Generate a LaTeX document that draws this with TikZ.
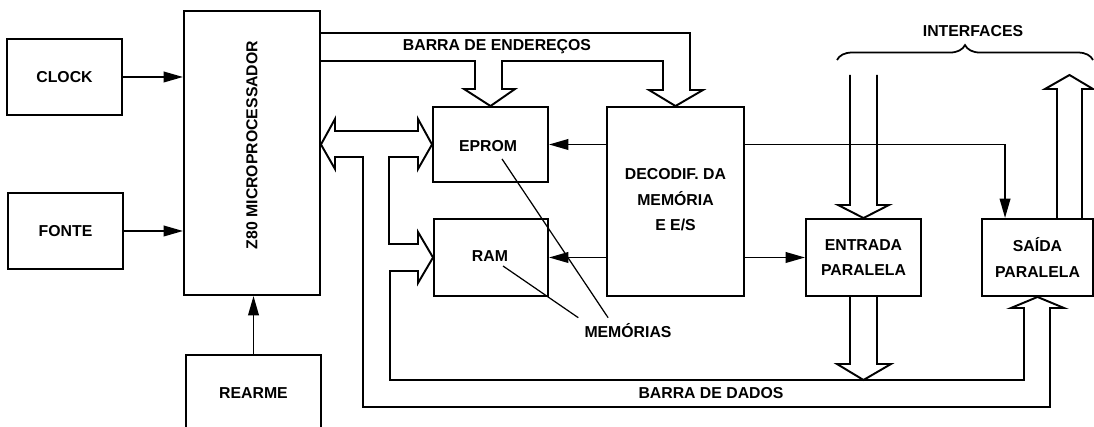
\documentclass[tikz,border=0pt]{standalone}
\usepackage{fontspec}
\setmainfont{Liberation Sans}
\usetikzlibrary{arrows.meta,positioning,calc,decorations.pathreplacing}

\begin{document}
\begin{tikzpicture}[
  x=0.2mm, y=-0.2mm,
  font=\fontsize{9}{14.5}\selectfont\bfseries,
  box/.style={draw, line width=1.1pt, align=center, inner sep=0pt},
  bus/.style={line width=1.1pt, line join=miter},
  ar/.style={-{Triangle[length=11pt,width=6pt]}, line width=1.1pt},
  lead/.style={line width=0.7pt}
]
\useasboundingbox (0,0) rectangle (1094,427);

% blocos
\node[box, minimum width=23mm, minimum height=15.2mm] (clock) at (64.5,77) {CLOCK};
\node[box, minimum width=23mm, minimum height=15.2mm] (fonte) at (65.5,231) {FONTE};
\node[box, minimum width=27.2mm, minimum height=56.8mm] (micro) at (252,153) {};
\node[rotate=90] (microtxt) at (252,145) {Z80 MICROPROCESSADOR};
\node[box, minimum width=27mm, minimum height=15.4mm] (rearme) at (253.5,393.5) {REARME};
\node[box, minimum width=23mm, minimum height=15mm] (eprom) at (490.5,144.5) {};
\node (epromtxt) at (488,146) {EPROM};
\node[box, minimum width=22.8mm, minimum height=15.4mm] (ram) at (491,257.5) {};
\node (ramtxt) at (490,256) {RAM};
\node[box, minimum width=27.4mm, minimum height=37.8mm] (dec) at (675.5,201.5) {};
\node[align=center] (dectxt) at (675.5,200) {DECODIF. DA\\MEMÓRIA\\E E/S};
\node[box, minimum width=23mm, minimum height=15.4mm] (entrada) at (863.5,257.5) {ENTRADA\\PARALELA};
\node[box, minimum width=22.2mm, minimum height=15.4mm] (saida) at (1037.5,257.5) {SAÍDA\\PARALELA};

% textos
\node (addrlbl) at (497,47) {BARRA DE ENDEREÇOS};
\node (datalbl) at (711,393) {BARRA DE DADOS};
\node (mem) at (628,331) {MEMÓRIAS};
\node (iflbl) at (973,31) {INTERFACES};

% ligacoes simples
\draw[ar] (clock.east) -- (clock.east -| micro.west);
\draw[ar] (fonte.east) -- (fonte.east -| micro.west);
\draw[ar] (rearme.north) -- (rearme.north |- micro.south);
\draw[ar] (dec.west |- eprom.east) -- (eprom.east);
\draw[ar] (dec.west |- ram.east) -- (ram.east);
\draw[ar] (dec.east |- entrada.west) -- (entrada.west);
\draw[ar] (dec.east |- eprom.east) -| ($(saida.north west)+(24,0)$);

% barra de enderecos
\draw[bus] (micro.east |- 0,33) -- (690,33) -- (690,90) -- (703,90) -- (dec.north)
  -- (649,90) -- (663,90) -- (663,61) -- (502,61) -- (502,89) -- (515,89)
  -- (eprom.north) -- (464,89) -- (475,89) -- (475,61) -- (micro.east |- 0,61);

% barra de dados
\draw[bus] (micro.east |- eprom.west) -- (335,119) -- (335,131) -- (418,131) -- (418,119)
  -- (eprom.west) -- (418,169) -- (418,157) -- (389,157) -- (389,244) -- (418,244)
  -- (418,232) -- (ram.west) -- (418,283) -- (418,271) -- (390,271) -- (390,380)
  -- (1024,380) -- (1024,308) -- (1011,308) -- (saida.south) -- (1064,308)
  -- (1050,308) -- (1050,407) -- (363,407) -- (363,157) -- (335,157) -- (335,169) -- cycle;

% interfaces
\draw[bus] (850,75) -- (850,205) -- (838,205) -- (entrada.north) -- (889,205) -- (877,205) -- (877,75);
\draw[bus] (entrada.south -| 850,0) -- (850,364) -- (837,364) -- (863.5,380) -- (891,364) -- (877,364) -- (entrada.south -| 877,0);
\draw[bus] (saida.north -| 1057,0) -- (1057,89) -- (1045,89) -- (1069.5,75) -- (1093,89) -- (1082,89) -- (saida.north -| 1082,0);
\draw[line width=1pt, decorate, decoration={brace, amplitude=8.5pt}] (837,60) -- (1093,60);

% memorias
\draw[lead] ($(ramtxt)+(13,10)$) -- (mem.north west);
\draw[lead] ($(epromtxt)+(14,13)$) -- ($(mem.north west)!0.3!(mem.north east)$);
\end{tikzpicture}
\end{document}
